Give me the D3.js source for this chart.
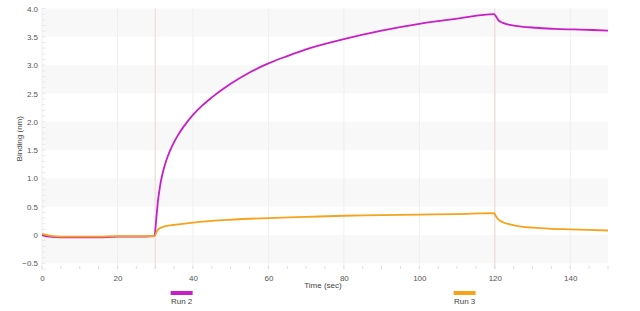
<!DOCTYPE html>
<html>
<head>
<meta charset="utf-8">
<script src="https://cdn.jsdelivr.net/npm/d3@7"></script>
<style>
  body { margin: 0; background: #fff; }
  text { font-family: "Liberation Sans", Arial, sans-serif; }
</style>
</head>
<body>
<div id="chart"></div>
<script>
// Sensorgram data
var run2Time = [0, 2, 5, 10, 15, 20, 25, 29.8, 30.3, 30.7, 31.2, 32, 33, 34, 35, 36, 37.5, 40, 42.5, 45, 50, 55, 60, 65, 70, 80, 90, 100, 110, 119.8, 120.5, 121, 122, 124, 127, 131, 136, 141, 146, 150];
var run2Values = [0, -0.03, -0.04, -0.04, -0.04, -0.03, -0.03, -0.02, 0.3, 0.58, 0.83, 1.1, 1.33, 1.5, 1.64, 1.76, 1.91, 2.12, 2.29, 2.43, 2.67, 2.87, 3.03, 3.16, 3.28, 3.46, 3.61, 3.73, 3.82, 3.9, 3.84, 3.79, 3.75, 3.71, 3.68, 3.66, 3.64, 3.63, 3.62, 3.61];

var run3Time = [0, 2, 5, 10, 15, 20, 25, 29.8, 30.5, 31, 32, 33, 35, 40, 45, 50, 60, 70, 80, 90, 100, 110, 119.8, 120.3, 121, 122, 124, 127, 130, 135, 140, 145, 150];
var run3Values = [0.02, -0.01, -0.03, -0.03, -0.03, -0.02, -0.02, -0.02, 0.07, 0.11, 0.14, 0.16, 0.18, 0.22, 0.25, 0.27, 0.3, 0.32, 0.34, 0.35, 0.36, 0.37, 0.385, 0.33, 0.27, 0.23, 0.19, 0.15, 0.13, 0.11, 0.1, 0.09, 0.08];

var seriesNames = ["Run 2", "Run 3"];
var seriesColors = ["#c81ec8", "#f5a31a"];

var xTicks = [0, 20, 40, 60, 80, 100, 120, 140];
var yTicks = [-0.5, 0, 0.5, 1.0, 1.5, 2.0, 2.5, 3.0, 3.5, 4.0];
var stepMarks = [30, 120];

var svgWidth = 640;
var svgHeight = 311;

var margin = { top: 8.5, right: 32, bottom: 42, left: 42 };
var width = svgWidth - margin.left - margin.right;
var height = svgHeight - margin.top - margin.bottom;

var svg = d3.select("#chart")
  .append("svg")
  .attr("width", svgWidth)
  .attr("height", svgHeight);

var chartGroup = svg.append("g")
  .attr("transform", `translate(${margin.left}, ${margin.top})`);

// scales
var xScale = d3.scaleLinear().domain([0, 150]).range([0, width]);
var yScale = d3.scaleLinear().domain([-0.6, 4.0]).range([height, 0]);

// alternating bands every 0.5
var bands = d3.range(-0.5, 4.0, 1.0);
chartGroup.selectAll(".band")
  .data(bands)
  .enter()
  .append("rect")
  .attr("x", 0)
  .attr("width", width)
  .attr("y", d => yScale(d + 0.5))
  .attr("height", d => yScale(d) - yScale(d + 0.5))
  .attr("fill", "#f8f8f8");

// vertical grid
chartGroup.selectAll(".vgrid")
  .data(xTicks)
  .enter()
  .append("line")
  .attr("x1", d => xScale(d)).attr("x2", d => xScale(d))
  .attr("y1", 0).attr("y2", height)
  .attr("stroke", "#efefef")
  .attr("stroke-width", 1);

// minor ticks
chartGroup.selectAll(".xminor")
  .data(d3.range(0, 151, 5))
  .enter()
  .append("line")
  .attr("x1", d => xScale(d)).attr("x2", d => xScale(d))
  .attr("y1", height - 3).attr("y2", height)
  .attr("stroke", "#ddd");

chartGroup.selectAll(".yminor")
  .data(d3.range(-0.6, 4.01, 0.1))
  .enter()
  .append("line")
  .attr("x1", 0).attr("x2", 3)
  .attr("y1", d => yScale(d)).attr("y2", d => yScale(d))
  .attr("stroke", "#e6e6e6");

// step boundaries
chartGroup.selectAll(".step")
  .data(stepMarks)
  .enter()
  .append("line")
  .attr("x1", d => xScale(d)).attr("x2", d => xScale(d))
  .attr("y1", 0).attr("y2", height)
  .attr("stroke", "#efd6d2")
  .attr("stroke-width", 1);

// axes
var xAxis = d3.axisBottom(xScale).tickValues(xTicks).tickSize(0).tickPadding(6)
  .tickFormat(d3.format("d"));
var yAxis = d3.axisLeft(yScale).tickValues(yTicks).tickSize(0).tickPadding(4)
  .tickFormat(d => d === 0 ? "0" : d3.format(".1f")(d));

var gx = chartGroup.append("g")
  .attr("transform", `translate(0, ${height})`)
  .call(xAxis);
var gy = chartGroup.append("g").call(yAxis);

[gx, gy].forEach(function(g) {
  g.select(".domain").remove();
  g.selectAll("text")
    .attr("font-size", "8px")
    .attr("fill", "#555")
    .style("font-family", "'Liberation Sans', Arial, sans-serif");
});

// lines
var series = [
  { name: seriesNames[0], color: seriesColors[0], pts: run2Time.map((t, i) => [t, run2Values[i]]) },
  { name: seriesNames[1], color: seriesColors[1], pts: run3Time.map((t, i) => [t, run3Values[i]]) }
];

var line = d3.line()
  .x(d => xScale(d[0]))
  .y(d => yScale(d[1]))
  .curve(d3.curveMonotoneX);

chartGroup.selectAll(".run")
  .data(series)
  .enter()
  .append("path")
  .attr("d", d => line(d.pts))
  .attr("fill", "none")
  .attr("stroke", d => d.color)
  .attr("stroke-width", 1.8)
  .attr("stroke-linejoin", "round");

// axis labels
svg.append("text")
  .attr("transform", `translate(22, ${margin.top + height / 2}) rotate(-90)`)
  .attr("text-anchor", "middle")
  .attr("font-size", "8px")
  .attr("fill", "#444")
  .text("Binding (nm)");

svg.append("text")
  .attr("x", 323)
  .attr("y", 288)
  .attr("text-anchor", "middle")
  .attr("font-size", "8px")
  .attr("fill", "#444")
  .text("Time (sec)");

// legend
var legendX = [37, 112];
var legend = svg.selectAll(".legend")
  .data(series)
  .enter()
  .append("g")
  .attr("transform", (d, i) => `translate(${margin.left + xScale(legendX[i])}, 0)`);

legend.append("rect")
  .attr("x", -11).attr("y", 291)
  .attr("width", 22).attr("height", 4)
  .attr("fill", d => d.color);

legend.append("text")
  .attr("y", 304)
  .attr("text-anchor", "middle")
  .attr("font-size", "8px")
  .attr("fill", "#444")
  .text(d => d.name);
</script>
</body>
</html>
